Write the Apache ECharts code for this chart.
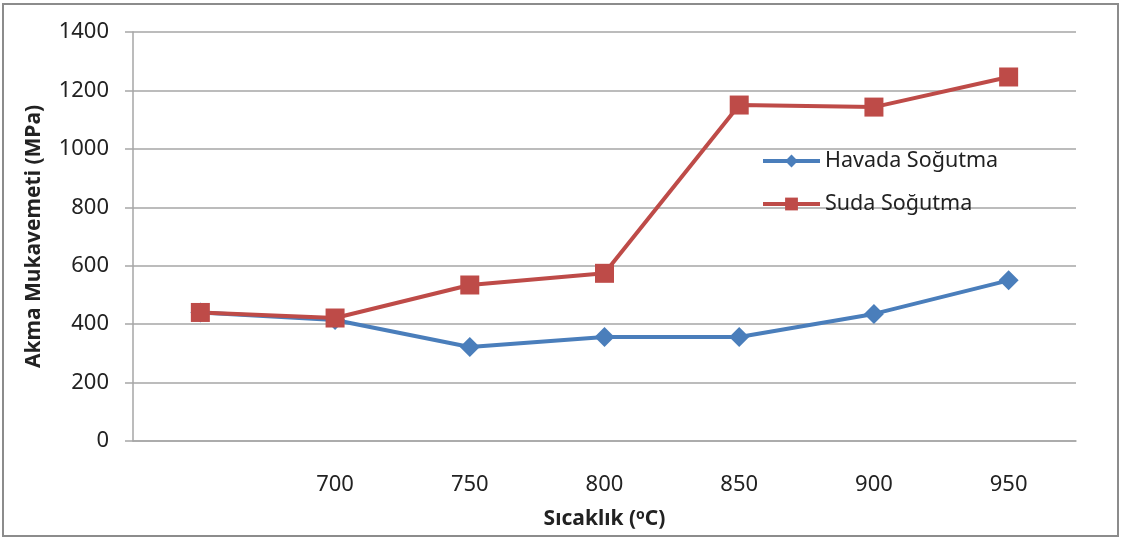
<!DOCTYPE html>
<html>
<head>
<meta charset="utf-8">
<script src="https://cdn.jsdelivr.net/npm/echarts@6/dist/echarts.min.js"></script>
<style>
  html, body { margin: 0; padding: 0; background: #fff; }
  #chart { width: 1126px; height: 539px; }
</style>
</head>
<body>
<div id="chart"></div>
<script>
// sıcaklık kategorileri (ilk kategori etiketsiz)
const categories = ['', '700', '750', '800', '850', '900', '950']
const havada = [440, 414, 322, 356, 356, 435, 550]
const suda = [440, 421, 534, 574, 1150, 1143, 1246]
const yTicks = { min: 0, max: 1400, interval: 200 }

const font = 'Noto Sans'
const gridColor = '#a6a6a6'

const chart = echarts.init(document.getElementById('chart'), null, { renderer: 'canvas' })

chart.setOption({
    animation: false,
    backgroundColor: '#fff',
    graphic: [{
        type: 'rect',
        shape: { x: 3, y: 4, width: 1115, height: 532 },
        style: { fill: 'none', stroke: '#8c8c8c', lineWidth: 2 },
        silent: true
    }],
    grid: { left: 133, right: 50, top: 32, bottom: 98 },
    legend: {
        orient: 'vertical',
        left: 756,
        top: 143,
        itemWidth: 57,
        itemHeight: 16,
        itemGap: 17,
        lineStyle: { width: 4 },
        textStyle: { fontFamily: font, fontSize: 21.5, color: '#222', lineHeight: 26 },
        data: ['Havada Soğutma', 'Suda Soğutma']
    },
    xAxis: {
        type: 'category',
        data: categories,
        boundaryGap: true,
        axisLine: { lineStyle: { color: gridColor, width: 1.5 } },
        axisTick: { length: 8, lineStyle: { color: gridColor, width: 1.5 } },
        axisLabel: { fontFamily: font, fontSize: 22, color: '#222', margin: 33 },
        name: 'Sıcaklık ({s|o}C)',
        nameLocation: 'middle',
        nameGap: 67,
        nameTextStyle: {
            fontFamily: font, fontSize: 21, fontWeight: 'bold', color: '#222',
            rich: { s: { fontFamily: font, fontSize: 14, fontWeight: 'bold', verticalAlign: 'top', padding: [0, 0, 8, 0] } }
        }
    },
    yAxis: {
        type: 'value',
        min: yTicks.min,
        max: yTicks.max,
        interval: yTicks.interval,
        axisLine: { show: true, lineStyle: { color: gridColor, width: 1.5 } },
        axisTick: { show: true, length: 8, lineStyle: { color: gridColor, width: 1.5 } },
        axisLabel: { fontFamily: font, fontSize: 22, color: '#222', margin: 24, formatter: v => String(v) },
        splitLine: { lineStyle: { color: gridColor, width: 1.5 } },
        name: 'Akma Mukavemeti (MPa)',
        nameLocation: 'middle',
        nameGap: 88,
        nameTextStyle: { fontFamily: font, fontSize: 21, fontWeight: 'bold', color: '#222' }
    },
    series: [
        {
            name: 'Havada Soğutma',
            type: 'line',
            data: havada,
            symbol: 'diamond',
            symbolSize: 20,
            lineStyle: { width: 4, color: '#4a7ebb' },
            itemStyle: { color: '#4a7ebb' }
        },
        {
            name: 'Suda Soğutma',
            type: 'line',
            data: suda,
            symbol: 'rect',
            symbolSize: 19,
            lineStyle: { width: 4, color: '#be4b48' },
            itemStyle: { color: '#be4b48' }
        }
    ]
})
</script>
</body>
</html>
